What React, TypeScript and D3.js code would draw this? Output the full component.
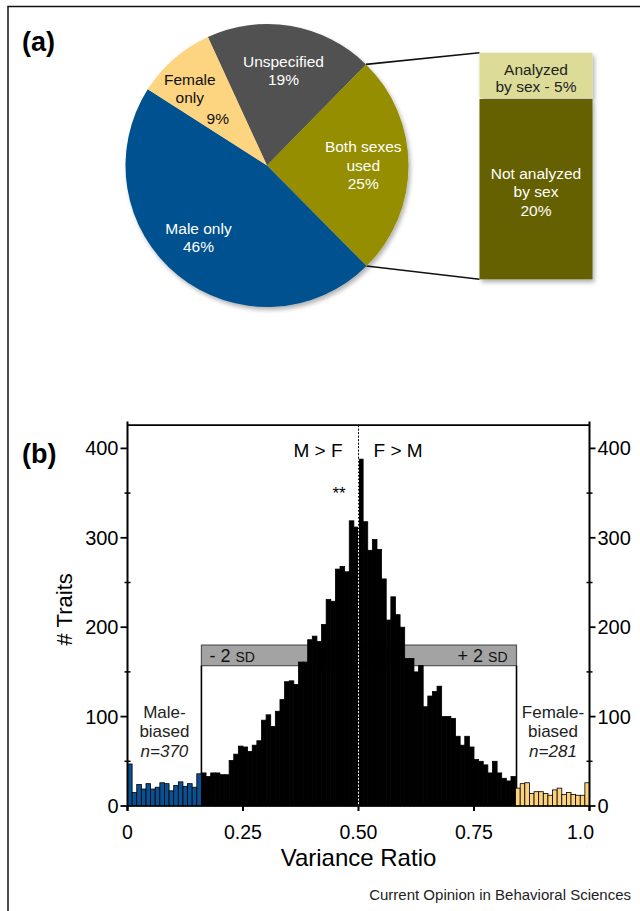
import React from "react";
import * as d3 from "d3";

// ---------- Panel (a) data ----------
const pieCategories = ["Unspecified", "Both sexes used", "Male only", "Female only"];
const piePercents = [19, 25, 46, 9];
const pieLabelLines = [["Unspecified", "19%"], ["Both sexes", "used", "25%"], ["Male only", "46%"], ["Female", "only", "9%"]];
const pieColors = ["#515151", "#948e00", "#03518f", "#fdd480"];
const pieTextColors = ["#ffffff", "#ffffff", "#ffffff", "#111111"];

const splitCategories = ["Analyzed by sex", "Not analyzed by sex"];
const splitPercents = [5, 20];
const splitLabelLines = [["Analyzed", "by sex - 5%"], ["Not analyzed", "by sex", "20%"]];
const splitColors = ["#dcdc98", "#656100"];
const splitTextColors = ["#222222", "#ffffff"];

// ---------- Panel (b) data ----------
const binWidth = 0.01;
const maleBiasedCounts = [47, 15, 24, 19, 25, 19, 21, 26, 25, 17, 23, 27, 22, 25, 21, 36];
const unbiasedCounts = [
  37, 33, 37, 37, 35, 35, 51, 58, 67, 66, 61, 68, 73, 96, 102, 89, 106, 119, 139, 140, 136, 161, 161, 186,
  190, 184, 203, 231, 229, 265, 268, 262, 319, 312, 388, 318, 286, 298, 287, 254, 208, 234, 214, 200, 165,
  165, 150, 157, 111, 123, 128, 134, 100, 100, 98, 78, 68, 78, 66, 52, 50, 46, 37, 50, 37, 31, 28, 33,
];
const femaleBiasedCounts = [20, 25, 26, 14, 16, 16, 14, 12, 18, 20, 13, 15, 13, 12, 12, 26];
const groupColors = ["#0a5193", "#000000", "#fdd27c"];
const xTicks = [0, 0.25, 0.5, 0.75, 1.0];
const xTickLabels = ["0", "0.25", "0.50", "0.75", "1.0"];
const yTicks = [0, 100, 200, 300, 400];
const yMinorTicks = [50, 150, 250, 350];
const sdBounds = [0.16, 0.842];
const sdBand = [157, 180];
const maleN = 370;
const femaleN = 281;

const FONT = "'Liberation Sans', Arial, Helvetica, sans-serif";

export default function App() {
  // ---------- Panel (a) geometry ----------
  const cx = 267, cy = 165.5, R = 141.5;
  const startAngle = (-24.7 * Math.PI) / 180;
  const pie = d3.pie<number>().sort(null).value((d) => d).startAngle(startAngle).endAngle(startAngle + 2 * Math.PI);
  const arcs = pie(piePercents);
  const arcGen = d3.arc<d3.PieArcDatum<number>>().innerRadius(0).outerRadius(R);
  const labelArc = d3.arc<d3.PieArcDatum<number>>().innerRadius(R * 0.68).outerRadius(R * 0.68);
  const pt = (a: number) => [cx + R * Math.sin(a), cy - R * Math.cos(a)];
  const both = arcs[1];
  const [p1x, p1y] = pt(both.startAngle);
  const [p2x, p2y] = pt(both.endAngle);

  const boxX = 479.5, boxW = 113;
  const splitTotal = d3.sum(splitPercents);
  const boxY = d3.scaleLinear().domain([0, splitTotal]).range([52.7, 279.3]);
  const splitStarts = d3.cumsum([0, ...splitPercents]);

  const pieFs = 15.5, pieLh = 18.5;
  const labelDx = [0, 0, -8, -14];
  const labelDy = [0, 0, -3, 5];

  // ---------- Panel (b) geometry ----------
  const x = d3.scaleLinear().domain([0, 1]).range([127.5, 589.5]);
  const y = d3.scaleLinear().domain([0, 400]).range([806, 448.4]);
  const allCounts = [
    ...maleBiasedCounts.map((v) => ({ v, g: 0 })),
    ...unbiasedCounts.map((v) => ({ v, g: 1 })),
    ...femaleBiasedCounts.map((v) => ({ v, g: 2 })),
  ];
  const bars = allCounts.map((d, i) => ({ ...d, x0: x(i * binWidth), x1: x((i + 1) * binWidth) }));
  const midIdx = Math.round(0.5 / binWidth);
  const centerTop = Math.max(allCounts[midIdx].v, allCounts[midIdx - 1].v);
  const xMid = x(0.5);
  const axisTop = y(430);
  const frameTop = y(426);

  return (
    <svg
      width={640}
      height={911}
      viewBox="0 0 640 911"
      style={{ position: "absolute", left: 0, top: 0, background: "#fff" }}
      fontFamily={FONT}
    >
      <defs>
        <filter id="shadow" x="-10%" y="-10%" width="130%" height="130%">
          <feDropShadow dx="2" dy="3" stdDeviation="2.2" floodColor="#000" floodOpacity="0.3" />
        </filter>
      </defs>
      <rect x={0} y={0} width={640} height={911} fill="#fff" />
      {/* outer frame */}
      <rect x={8} y={6.5} width={700} height={1000} fill="none" stroke="#111" strokeWidth={1.5} />

      {/* ---------- Panel (a) ---------- */}
      <text x={22} y={51} fontSize={27} fontWeight="bold" fill="#000">(a)</text>

      {/* connector lines */}
      <line x1={p1x} y1={p1y} x2={boxX} y2={boxY(0)} stroke="#111" strokeWidth={1.6} />
      <line x1={p2x} y1={p2y} x2={boxX} y2={boxY(splitTotal)} stroke="#111" strokeWidth={1.6} />

      <g transform={`translate(${cx},${cy})`} filter="url(#shadow)">
        {arcs.map((a, i) => (
          <path key={pieCategories[i]} d={arcGen(a) || ""} fill={pieColors[i]} />
        ))}
      </g>
      {arcs.map((a, i) => {
        const [lx, ly] = labelArc.centroid(a);
        const lines = pieLabelLines[i];
        const first = cy + ly + labelDy[i] - ((lines.length - 1) * pieLh) / 2 + pieFs * 0.35;
        return (
          <text key={"l" + i} fontSize={pieFs} fill={pieTextColors[i]} textAnchor="middle">
            {lines.map((t, j) => (
              <tspan
                key={j}
                x={cx + lx + labelDx[i] + (i === 3 && j === 2 ? 28 : 0)}
                y={first + j * pieLh + (i === 3 && j === 2 ? 2 : 0)}
              >
                {t}
              </tspan>
            ))}
          </text>
        );
      })}

      {/* split bar */}
      <g filter="url(#shadow)">
        {splitPercents.map((v, i) => (
          <rect
            key={splitCategories[i]}
            x={boxX}
            y={boxY(splitStarts[i]) + (i > 0 ? 1 : 0)}
            width={boxW}
            height={boxY(splitStarts[i] + v) - boxY(splitStarts[i]) - (i > 0 ? 1 : 0)}
            fill={splitColors[i]}
          />
        ))}
      </g>
      {splitPercents.map((v, i) => {
        const mid = (boxY(splitStarts[i]) + boxY(splitStarts[i] + v)) / 2;
        const lines = splitLabelLines[i];
        const first = mid + 3 - ((lines.length - 1) * pieLh) / 2 + pieFs * 0.35;
        return (
          <text key={"s" + i} fontSize={pieFs} fill={splitTextColors[i]} textAnchor="middle">
            {lines.map((t, j) => (
              <tspan key={j} x={boxX + boxW / 2} y={first + j * (i === 0 ? 17 : pieLh)}>
                {t}
              </tspan>
            ))}
          </text>
        );
      })}

      {/* ---------- Panel (b) ---------- */}
      <text x={22} y={463} fontSize={27} fontWeight="bold" fill="#000">(b)</text>

      {/* SD band */}
      <rect
        x={x(sdBounds[0])}
        y={y(sdBand[1])}
        width={x(sdBounds[1]) - x(sdBounds[0])}
        height={y(sdBand[0]) - y(sdBand[1])}
        fill="#a3a3a3"
        stroke="#555"
        strokeWidth={1.2}
      />
      <line x1={x(sdBounds[0])} x2={x(sdBounds[0])} y1={y(sdBand[0])} y2={y(0)} stroke="#000" strokeWidth={1.6} />
      <line x1={x(sdBounds[1])} x2={x(sdBounds[1])} y1={y(sdBand[0])} y2={y(0)} stroke="#000" strokeWidth={1.6} />
      <text x={x(sdBounds[0]) + 8} y={y(sdBand[0]) - 3.5} fill="#111">
        <tspan fontSize={18}>- 2 </tspan>
        <tspan fontSize={14}>SD</tspan>
      </text>
      <text x={x(sdBounds[1]) - 9} y={y(sdBand[0]) - 3.5} fill="#111" textAnchor="end">
        <tspan fontSize={18}>+ 2 </tspan>
        <tspan fontSize={14}>SD</tspan>
      </text>

      {/* bars */}
      {bars.map((b, i) => (
        <rect
          key={i}
          x={b.x0}
          y={y(b.v)}
          width={b.x1 - b.x0}
          height={y(0) - y(b.v)}
          fill={groupColors[b.g]}
          stroke="#000"
          strokeWidth={0.8}
        />
      ))}

      {/* center dotted line */}
      <line x1={xMid} x2={xMid} y1={frameTop} y2={y(0) + 4} stroke="#000" strokeWidth={1} strokeDasharray="2,1.5" />
      <line x1={xMid} x2={xMid} y1={y(centerTop)} y2={y(0)} stroke="#fff" strokeWidth={1} strokeDasharray="2,1.5" />

      {/* frame / axes */}
      <line x1={x(0)} x2={x(1)} y1={frameTop} y2={frameTop} stroke="#000" strokeWidth={1.8} />
      <line x1={x(0)} x2={x(1)} y1={y(0)} y2={y(0)} stroke="#000" strokeWidth={1.5} />
      <line x1={x(0)} x2={x(0)} y1={axisTop} y2={y(0) + 5} stroke="#000" strokeWidth={2} />
      <line x1={x(1)} x2={x(1)} y1={axisTop} y2={y(0) + 5} stroke="#000" strokeWidth={2} />

      {yTicks.map((t) => (
        <g key={"yt" + t}>
          <line x1={x(0) - 7} x2={x(0)} y1={y(t)} y2={y(t)} stroke="#000" strokeWidth={1.8} />
          <line x1={x(1)} x2={x(1) + 6} y1={y(t)} y2={y(t)} stroke="#000" strokeWidth={1.8} />
          <text x={x(0) - 9} y={y(t) + 7} fontSize={20} textAnchor="end" fill="#000">{t}</text>
          <text x={x(1) + 8} y={y(t) + 7} fontSize={20} textAnchor="start" fill="#000">{t}</text>
        </g>
      ))}
      {yMinorTicks.map((t) => (
        <g key={"ym" + t}>
          <line x1={x(0) - 3} x2={x(0) + 3} y1={y(t)} y2={y(t)} stroke="#000" strokeWidth={1.5} />
          <line x1={x(1) - 3} x2={x(1) + 3} y1={y(t)} y2={y(t)} stroke="#000" strokeWidth={1.5} />
        </g>
      ))}
      {xTicks.map((t, i) => (
        <g key={"xt" + t}>
          <line x1={x(t)} x2={x(t)} y1={y(0)} y2={y(0) + 5} stroke="#000" strokeWidth={2} />
          <text
            x={x(t) - (i === xTicks.length - 1 ? 9 : 0)}
            y={y(0) + 33}
            fontSize={19.5}
            textAnchor="middle"
            fill="#000"
          >
            {xTickLabels[i]}
          </text>
        </g>
      ))}

      {/* axis titles */}
      <text x={xMid} y={866} fontSize={24} textAnchor="middle" fill="#000">Variance Ratio</text>
      <text transform={`translate(72,${y(220)}) rotate(-90)`} fontSize={22} textAnchor="middle" fill="#000"># Traits</text>

      {/* annotations */}
      <text x={xMid - 16} y={457} fontSize={19} textAnchor="end" fill="#000">M &gt; F</text>
      <text x={xMid + 15} y={457} fontSize={19} textAnchor="start" fill="#000">F &gt; M</text>
      <text x={xMid - 19.5} y={499} fontSize={17} textAnchor="middle" fill="#000">**</text>

      <text fontSize={17} textAnchor="middle" fill="#222">
        <tspan x={(x(0) + x(sdBounds[0])) / 2} y={718}>Male-</tspan>
        <tspan x={(x(0) + x(sdBounds[0])) / 2} y={737}>biased</tspan>
        <tspan x={(x(0) + x(sdBounds[0])) / 2} y={757} fontStyle="italic">n={maleN}</tspan>
      </text>
      <text fontSize={17} textAnchor="middle" fill="#222">
        <tspan x={(x(1) + x(sdBounds[1])) / 2} y={718}>Female-</tspan>
        <tspan x={(x(1) + x(sdBounds[1])) / 2} y={737}>biased</tspan>
        <tspan x={(x(1) + x(sdBounds[1])) / 2} y={757} fontStyle="italic">n={femaleN}</tspan>
      </text>

      <text x={631} y={900} fontSize={15} textAnchor="end" fill="#222">Current Opinion in Behavioral Sciences</text>
    </svg>
  );
}
